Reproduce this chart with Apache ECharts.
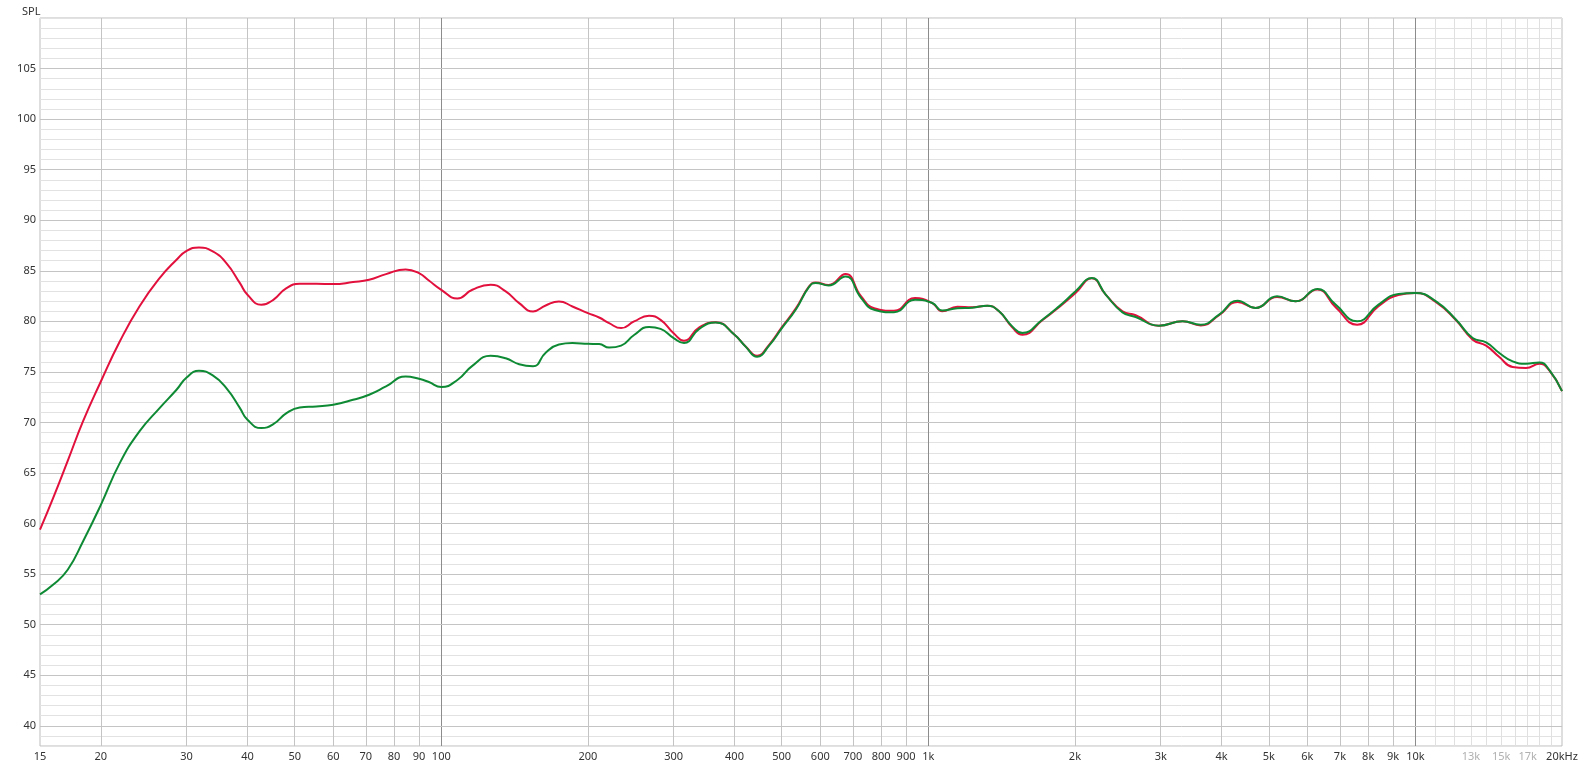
<!DOCTYPE html>
<html>
<head>
<meta charset="utf-8">
<script src="https://cdn.jsdelivr.net/npm/echarts@6/dist/echarts.min.js"></script>
<style>
html,body{margin:0;padding:0;background:#fff;}
#chart{width:1583px;height:770px;}
</style>
</head>
<body>
<div id="chart"></div>
<script>
// ---- data ----
const freqs = [15, 15.95, 17.1, 18.38, 20, 21.87, 24, 26.4, 28.6, 30, 31.8, 33.95, 36.2, 38.6, 40, 42.7, 45.2, 48.1, 51.2, 55.4, 60, 65.9, 71.1, 77, 84.5, 90, 94.3, 100, 107.9, 115.8, 126.3, 135.6, 144.5, 154.3, 163.8, 174.4, 185.9, 200, 210.9, 221.1, 234, 248.8, 267, 282, 300, 315, 338.6, 366, 400, 421.6, 445, 471, 500, 535, 569, 587, 624, 676, 728, 774, 850, 939, 1019, 1068, 1147, 1231, 1321, 1397, 1487, 1560, 1714, 1855, 2006, 2166, 2313, 2504, 2665, 2975, 3328, 3625, 3953, 4314, 4698, 5200, 5676, 6291, 6858, 7594, 8400, 9227, 10000, 11025, 12123, 13110, 13970, 14870, 15840, 16870, 17970, 18830, 20000];
const redDb = [59.4, 62.5, 66.2, 70.1, 74.05, 78.0, 81.47, 84.27, 86.09, 86.98, 87.31, 86.91, 85.76, 83.78, 82.63, 81.64, 82.13, 83.29, 83.71, 83.71, 83.68, 83.88, 84.11, 84.67, 85.13, 84.77, 84.04, 83.12, 82.26, 83.12, 83.62, 82.96, 81.8, 80.98, 81.57, 81.97, 81.47, 80.81, 80.38, 79.82, 79.33, 79.99, 80.55, 80.15, 78.83, 78.08, 79.4, 79.92, 78.67, 77.52, 76.6, 77.68, 79.4, 81.31, 83.45, 83.85, 83.6, 84.67, 82.46, 81.3, 81.04, 82.3, 81.81, 81.0, 81.45, 81.4, 81.55, 80.99, 79.4, 78.68, 80.1, 81.4, 82.8, 84.25, 82.64, 81.0, 80.6, 79.57, 80.0, 79.6, 80.6, 81.9, 81.32, 82.4, 81.98, 83.15, 81.4, 79.67, 81.5, 82.6, 82.8, 81.9, 80.1, 78.19, 77.59, 76.47, 75.48, 75.38, 75.81, 75.15, 73.1];
const greenDb = [53.0, 53.94, 55.43, 58.23, 61.85, 65.98, 69.11, 71.42, 73.23, 74.45, 75.11, 74.65, 73.39, 71.42, 70.26, 69.44, 69.83, 70.92, 71.48, 71.58, 71.75, 72.24, 72.74, 73.56, 74.55, 74.32, 74.0, 73.5, 74.2, 75.6, 76.6, 76.35, 75.75, 75.55, 76.9, 77.7, 77.85, 77.78, 77.75, 77.4, 77.6, 78.65, 79.45, 79.25, 78.34, 77.85, 79.26, 79.89, 78.67, 77.5, 76.5, 77.6, 79.3, 81.2, 83.4, 83.8, 83.55, 84.44, 82.3, 81.14, 80.9, 82.13, 81.81, 81.06, 81.3, 81.35, 81.55, 80.99, 79.5, 78.85, 80.16, 81.48, 82.97, 84.29, 82.64, 80.89, 80.43, 79.57, 80.0, 79.67, 80.66, 82.04, 81.32, 82.47, 81.98, 83.2, 81.65, 80.0, 81.65, 82.7, 82.8, 81.98, 80.16, 78.35, 77.92, 76.87, 76.04, 75.81, 75.94, 75.2, 73.1];

// axis ticks / grid
const xLabelFreqs = [15, 20, 30, 40, 50, 60, 70, 80, 90, 100, 200, 300, 400, 500, 600, 700, 800, 900, 1000, 2000, 3000, 4000, 5000, 6000, 7000, 8000, 9000, 10000, 13000, 15000, 17000, 20000];
const xLabelTexts = ['15', '20', '30', '40', '50', '60', '70', '80', '90', '100', '200', '300', '400', '500', '600', '700', '800', '900', '1k', '2k', '3k', '4k', '5k', '6k', '7k', '8k', '9k', '10k', '13k', '15k', '17k', '20kHz'];
const xDimLabels = ['13k', '15k', '17k'];
const xGridDark = [100, 1000, 10000];
const xGridMid = [20, 30, 40, 50, 60, 70, 80, 90, 200, 300, 400, 500, 600, 700, 800, 900, 2000, 3000, 4000, 5000, 6000, 7000, 8000, 9000];
const xGridLight = [11000, 12000, 13000, 14000, 15000, 16000, 17000, 18000, 19000];
const yGridMid = [40, 45, 50, 55, 60, 65, 70, 75, 80, 85, 90, 95, 100, 105];
const yLabelTicks = [40, 45, 50, 55, 60, 65, 70, 75, 80, 85, 90, 95, 100, 105];

const FONT = '"Noto Sans", "Open Sans", sans-serif';

const chart = echarts.init(document.getElementById('chart'), null, {renderer: 'canvas'});

const gridLines = [];
xGridLight.forEach(f => gridLines.push({xAxis: f, lineStyle: {color: '#e0e0e0', width: 1, type: 'solid'}}));
xGridMid.forEach(f => gridLines.push({xAxis: f, lineStyle: {color: '#c4c4c4', width: 1, type: 'solid'}}));
xGridDark.forEach(f => gridLines.push({xAxis: f, lineStyle: {color: '#8c8c8c', width: 1, type: 'solid'}}));
yGridMid.forEach(v => gridLines.push({yAxis: v, lineStyle: {color: '#c4c4c4', width: 1, type: 'solid'}}));

const labelLines = xLabelFreqs.map((f, i) => ({
  xAxis: f,
  lineStyle: {color: 'transparent', width: 1},
  label: {
    show: true,
    position: 'start',
    distance: 5,
    formatter: xLabelTexts[i],
    color: xDimLabels.indexOf(xLabelTexts[i]) >= 0 ? '#b0b0b0' : '#333333',
    fontSize: 11,
    fontFamily: FONT,
    opacity: 1
  }
}));

const option = {
  animation: false,
  backgroundColor: '#ffffff',
  title: {
    text: 'SPL', left: 17, top: 1,
    textStyle: {fontSize: 11, fontWeight: 'normal', color: '#333', fontFamily: FONT}
  },
  grid: {left: 40, right: 21, top: 18, bottom: 24, show: true, borderColor: '#bdbdbd', borderWidth: 1},
  xAxis: {
    type: 'log', logBase: 10, min: 15, max: 20000,
    axisLine: {show: false}, axisTick: {show: false}, axisLabel: {show: false},
    splitLine: {show: false}, minorTick: {show: false}, minorSplitLine: {show: false}
  },
  yAxis: {
    type: 'value', min: 38, max: 110, interval: 1,
    axisLine: {show: false}, axisTick: {show: false},
    axisLabel: {
      color: '#333', fontSize: 11, fontFamily: FONT, margin: 4,
      formatter: v => (yLabelTicks.indexOf(v) >= 0 ? String(v) : '')
    },
    splitLine: {show: true, lineStyle: {color: '#e2e2e2', width: 1}}
  },
  series: [
    {
      name: 'grid', type: 'line', data: [], silent: true,
      markLine: {silent: true, symbol: ['none', 'none'], z: 1, label: {show: false}, data: gridLines}
    },
    {
      name: 'labels', type: 'line', data: [], silent: true,
      markLine: {silent: true, symbol: ['none', 'none'], z: 1, data: labelLines}
    },
    {
      name: 'red', type: 'line', smooth: 0.5, showSymbol: false, z: 3,
      lineStyle: {color: '#e2103c', width: 2}, itemStyle: {color: '#e2103c'},
      data: freqs.map((f, i) => [f, redDb[i]])
    },
    {
      name: 'green', type: 'line', smooth: 0.5, showSymbol: false, z: 4,
      lineStyle: {color: '#0e8a34', width: 2}, itemStyle: {color: '#0e8a34'},
      data: freqs.map((f, i) => [f, greenDb[i]])
    }
  ]
};
chart.setOption(option);
</script>
</body>
</html>
